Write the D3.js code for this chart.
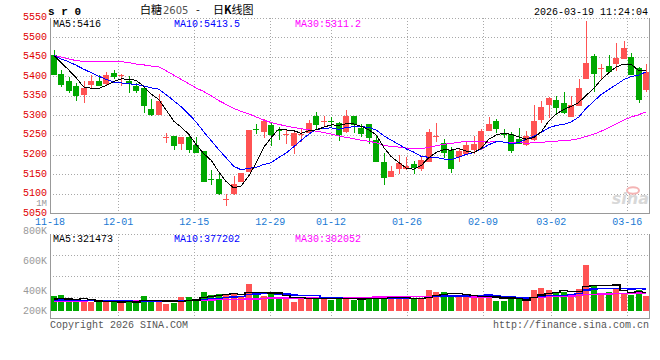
<!DOCTYPE html>
<html><head><meta charset="utf-8">
<script src="https://cdn.jsdelivr.net/npm/d3@7"></script>
<style>
body{margin:0;background:#fff}
svg{display:block}
text{font-family:"Liberation Mono","DejaVu Sans Mono",monospace;font-size:10px}
</style>
</head><body>
<svg id="c" width="660" height="360"></svg>
<script>
// ---- data ----
const open  = [5453,5405,5389,5374,5351,5377,5388,5379,5408,5403,5389,5374,5371,5317,5300,5244,5247,5226,5245,5224,
               5209,5137,5137,5085,5100,5130,5155,5267,5257,5275,5263,5251,5222,5253,5255,5298,5284,5286,5281,5257,
               5298,5268,5277,5238,5181,5143,5162,5164,5175,5162,5181,5246,5229,5211,5194,5202,5211,5215,5260,5285,
               5256,5253,5239,5224,5237,5287,5327,5340,5331,5297,5325,5393,5451,5420,5425,5431,5444,5448,5421,5365];
const high  = [5468,5417,5398,5382,5388,5402,5402,5412,5417,5405,5400,5382,5371,5341,5354,5256,5247,5245,5247,5245,
               5209,5160,5150,5100,5144,5154,5262,5277,5290,5281,5270,5266,5262,5266,5289,5308,5298,5296,5283,5313,
               5298,5277,5277,5247,5204,5172,5198,5194,5183,5195,5264,5280,5241,5219,5215,5235,5247,5266,5296,5290,
               5264,5257,5269,5260,5327,5338,5346,5349,5359,5350,5393,5540,5456,5431,5454,5486,5489,5459,5423,5431];
const low   = [5404,5372,5357,5338,5332,5371,5374,5377,5392,5376,5357,5357,5306,5298,5300,5229,5211,5211,5204,5203,
               5130,5123,5096,5069,5098,5130,5155,5253,5243,5222,5236,5226,5202,5232,5255,5266,5270,5270,5235,5255,
               5255,5245,5228,5181,5121,5142,5150,5160,5150,5157,5181,5232,5191,5153,5181,5202,5202,5212,5259,5256,
               5243,5204,5228,5223,5235,5280,5293,5302,5303,5295,5323,5392,5361,5394,5412,5414,5443,5403,5331,5359];
const close = [5404,5378,5362,5349,5370,5388,5374,5402,5398,5405,5381,5362,5324,5300,5337,5245,5222,5245,5211,5204,
               5130,5136,5099,5086,5124,5154,5262,5266,5286,5249,5262,5252,5255,5254,5280,5275,5285,5285,5249,5298,
               5276,5253,5242,5181,5140,5158,5178,5170,5166,5187,5257,5247,5204,5162,5208,5224,5226,5259,5277,5264,
               5249,5208,5228,5247,5285,5322,5344,5319,5305,5327,5370,5435,5405,5421,5412,5446,5471,5403,5339,5412];
const volume = [270000,285000,200000,200000,200000,185000,185000,185000,185000,170000,
                210000,160000,270000,185000,210000,150000,170000,250000,250000,225000,
                330000,285000,300000,300000,315000,250000,450000,310000,270000,300000,
                245000,250000,185000,235000,250000,235000,235000,210000,250000,250000,
                210000,210000,250000,270000,250000,250000,225000,225000,225000,225000,
                360000,330000,330000,285000,250000,260000,250000,285000,285000,195000,
                195000,235000,235000,195000,360000,395000,360000,310000,325000,295000,
                375000,735000,420000,295000,330000,390000,305000,280000,360000,275000];
// moving-average values at the left edge (their windows start before the first visible day)
const ma5Head  = [5453,5435,5416,5396];
const ma10Head = [5453,5444,5437,5428,5418,5409,5400,5392,5385];
const ma30Head = [5453,5449,5444,5440,5438,5438,5438,5438,5438,5437,5435,5431,5429,5426,5424,
                  5414,5403,5392,5381,5370,5361,5350,5338,5328,5318,5310,5304,5296,5288];
const vma5Head  = [225000,228000,226000,222000];
const vma10Head = [210000,210000,209000,208000,207000,206000,205000,205000,205000];
const vma30Head = [196000,196000,197000,197000,197000,198000,198000,198000,199000,199000,
                   200000,200000,200000,201000,202000,203000,204000,205000,206000,208000,
                   210000,212000,214000,216000,218000,221000,224000,227000,230000];
const tickLabels = ["11-18","12-01","12-15","12-29","01-12","01-26","02-09","03-02","03-16"];
const tickIndex  = [0,9,19,29,37,47,57,66,76];
const priceTicks = [5550,5500,5450,5400,5350,5300,5250,5200,5150,5100,5050];
const volTickValues = [800000,600000,400000,200000];
const volTickLabels = ["800K","600K","400K","200K"];
const maLabels  = ["MA5:5416","MA10:5413.5","MA30:5311.2"];
const vmaLabels = ["MA5:321473","MA10:377202","MA30:302052"];
const titleCode = "2605", titleName = "白糖", stamp = "2026-03-19 11:24:04";

// ---- layout ----
const svg = d3.select("#c");
const L = 50, R = 650, pTop = 17.5, pBot = 213.3, vTop = 234.3, vBot = 318.3;
const N = close.length;
const xb = d3.scaleBand().domain(d3.range(N)).range([L, R]);
const xg = d3.scaleLinear().domain([0, N - 1]).range([L, R]);
const yP = d3.scaleLinear().domain([5050, 5550]).range([pBot, pTop]);
const yV = d3.scaleLinear().domain([50000, 800000]).range([310.7, 260.7]);
const yVL = d3.scaleLinear().domain([200000, 400000, 800000]).range([310, 290, 230.7]);
const RED = "#ff5353", GREEN = "#00a800", GRID = "#a8a8a8";
const cx = i => Math.round(xb(i) + 3.7) + 0.5;

function ma(arr, n, head) {
  return arr.map((_, i) => i < n - 1 ? head[i] : d3.mean(arr.slice(i - n + 1, i + 1)));
}

// ---- grids ----
const g = svg.append("g").attr("shape-rendering", "crispEdges");
function hline(y, dotted, col) {
  g.append("line").attr("x1", L).attr("x2", R - 0.5).attr("y1", y).attr("y2", y)
    .attr("stroke", col || GRID).attr("stroke-dasharray", dotted ? "1,2" : null);
}
priceTicks.slice(0, -1).forEach(v => hline(Math.round(yP(v)) + 0.5, true));
hline(Math.round(pBot) + 0.5, false, "#999");
d3.range(0, 4).forEach(k => hline(Math.round(vTop + k * (vBot - vTop) / 4) + 0.5, true));
hline(Math.round(vBot) + 0.5, false, "#999");
tickIndex.forEach(ti => {
  const x = Math.round(xg(ti)) + 0.5;
  [[pTop, pBot], [vTop, vBot]].forEach(([a, b]) =>
    g.append("line").attr("x1", x).attr("x2", x).attr("y1", a).attr("y2", b)
      .attr("stroke", ti === 0 ? "#999" : GRID).attr("stroke-dasharray", ti === 0 ? null : "1,2"));
});
[[pTop, pBot], [vTop, vBot]].forEach(([a, b]) =>
  g.append("line").attr("x1", R - 0.5).attr("x2", R - 0.5).attr("y1", a).attr("y2", b).attr("stroke", "#999"));

// ---- watermark ----
svg.append("ellipse").attr("cx", 633).attr("cy", 190.5).attr("rx", 6).attr("ry", 3.2)
  .attr("fill", "none").attr("stroke", "#f4b4b4").attr("stroke-width", 2);
svg.append("text").attr("x", 649).attr("y", 204).attr("text-anchor", "end")
  .style("font-family", "DejaVu Sans, sans-serif").style("font-size", "16px").style("font-weight", "bold")
  .style("font-style", "italic").attr("fill", "#d8d8d8").text("sina");

// ---- candles ----
const cg = svg.append("g").attr("shape-rendering", "crispEdges");
d3.range(N).forEach(i => {
  const up = close[i] >= open[i];
  const col = up ? RED : GREEN;
  cg.append("line").attr("x1", cx(i)).attr("x2", cx(i))
    .attr("y1", yP(high[i])).attr("y2", yP(low[i])).attr("stroke", col);
  const top = yP(Math.max(open[i], close[i])), bot = yP(Math.min(open[i], close[i]));
  if (bot - top < 1.5) {
    const yy = Math.round((top + bot) / 2) + 0.5;
    cg.append("line").attr("x1", xb(i) + 0.7).attr("x2", xb(i) + 6.7).attr("y1", yy).attr("y2", yy).attr("stroke", col);
  } else {
    cg.append("rect").attr("x", xb(i) + 0.7).attr("width", 6).attr("y", top).attr("height", bot - top).attr("fill", col);
  }
});

// ---- moving averages (price) ----
const lineFn = d3.line().x((d, i) => xb(i) + 3.7).y(d => yP(d));
[[ma(close, 30, ma30Head), "#ff00ff"], [ma(close, 10, ma10Head), "#0000ff"], [ma(close, 5, ma5Head), "#000"]]
  .forEach(([s, c]) => svg.append("path").attr("d", lineFn(s)).attr("fill", "none").attr("stroke", c)
    .attr("stroke-width", 1).attr("shape-rendering", "crispEdges"));

// ---- volume ----
const vg = svg.append("g").attr("shape-rendering", "crispEdges");
d3.range(N).forEach(i => {
  const up = close[i] >= open[i];
  vg.append("rect").attr("x", xb(i) + 0.7).attr("width", 6)
    .attr("y", yV(volume[i])).attr("height", yV(50000) - yV(volume[i])).attr("fill", up ? RED : GREEN);
});
const vLine = d3.line().x((d, i) => xb(i) + 3.7).y(d => yV(d)).curve(d3.curveStep);
[[ma(volume, 30, vma30Head), "#ff00ff"], [ma(volume, 10, vma10Head), "#0000ff"], [ma(volume, 5, vma5Head), "#000"]]
  .forEach(([s, c]) => svg.append("path").attr("d", vLine(s)).attr("fill", "none").attr("stroke", c)
    .attr("stroke-width", 1.3).attr("shape-rendering", "crispEdges"));

// ---- axis labels ----
const T = (x, y, s, fill, anchor) => svg.append("text").attr("x", x).attr("y", y).attr("dy", "0.35em")
  .attr("text-anchor", anchor || "start").attr("fill", fill).text(s);
priceTicks.forEach(v => T(47, yP(v) - 1, v, "#e00000", "end"));
T(47, 202.5, "1M", "#999", "end").style("font-size", "9px");
tickIndex.forEach((ti, k) => T(xg(ti), 221.7, tickLabels[k], "#1a7ad4", "middle"));
volTickValues.forEach((v, k) => T(47, yVL(v), volTickLabels[k], "#999", "end"));

// ---- legends ----
const maCols = ["#000", "#0000ff", "#ff00ff"], legX = [53, 174, 295];
maLabels.forEach((s, k) => T(legX[k], 23.7, s, maCols[k]));
vmaLabels.forEach((s, k) => T(legX[k], 238.3, s, maCols[k]));

// ---- header / footer ----
svg.append("text").attr("x", 48).attr("y", 11.5).attr("dy", "0.35em").style("font-weight", "bold")
  .style("font-size", "11px").attr("fill", "#000").text("s r 0");
const tt = svg.append("text").attr("y", 10).attr("dy", "0.35em").attr("fill", "#000")
  .style("font-family", "'Noto Sans CJK SC', sans-serif").style("font-size", "11px");
tt.append("tspan").attr("x", 140).text(titleName);
tt.append("tspan").attr("x", 163).attr("fill", "#555").style("font-family", "'DejaVu Sans', sans-serif").style("font-size", "10px").text(titleCode);
tt.append("tspan").attr("x", 196).text("-");
tt.append("tspan").attr("x", 213).text("日");
tt.append("tspan").style("font-weight", "bold").text("K");
tt.append("tspan").text("线图");
T(648, 11.5, stamp, "#000", "end");
T(50, 324, "Copyright 2026 SINA.COM", "#555");
T(649, 324, "http://finance.sina.com.cn", "#555", "end");
</script>
</body></html>
